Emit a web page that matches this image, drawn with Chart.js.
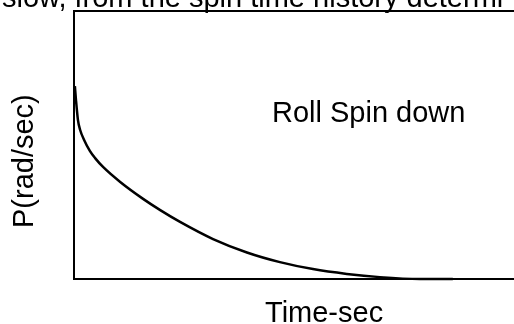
<!DOCTYPE html>
<html>
<head>
<meta charset="utf-8">
<script src="https://cdn.jsdelivr.net/npm/chart.js@4/dist/chart.umd.min.js"></script>
<style>
  html, body { margin: 0; padding: 0; background: #fff; overflow: hidden; }
  #wrap { position: relative; width: 514px; height: 324px; }
  canvas { display: block; }
</style>
</head>
<body>
<div id="wrap"><canvas id="c" width="514" height="324"></canvas></div>
<script>
// Roll spin-down history: roll rate decays from its initial value to rest.
const timeSec = [0.2, 0.45, 0.9, 1.4, 2.3, 3.6, 4.8, 6.6, 10.5, 15.7, 19.6, 24.1, 31.6, 39.3, 46.8, 54.3, 62.0, 69.5, 78.6, 86.1];
const rollRate = [72.0, 66.8, 59.3, 55.6, 51.9, 47.8, 45.1, 41.8, 36.2, 29.9, 25.7, 21.3, 14.9, 9.9, 6.3, 3.7, 1.9, 0.7, 0, 0];

// Text around the plot
const pageLine = 'slow, from the spin time history determi';
const curveLabel = 'Roll Spin down';
const xTitle = 'Time-sec';
const yTitle = 'P(rad/sec)';

const FONT = '29px "Liberation Sans", Arial, sans-serif';

const labelsPlugin = {
  id: 'labels',
  afterDraw(chart) {
    const ctx = chart.ctx;
    const a = chart.chartArea;
    ctx.save();
    ctx.fillStyle = '#000';
    ctx.font = FONT;
    ctx.textBaseline = 'alphabetic';
    ctx.textAlign = 'left';
    ctx.fillText(pageLine, 2, 7);
    ctx.fillText(curveLabel, a.left + 198, a.top + 111);
    ctx.fillText(xTitle, a.left + 191, a.bottom + 43);
    ctx.translate(33, a.bottom - 51);
    ctx.rotate(-Math.PI / 2);
    ctx.fillText(yTitle, 0, 0);
    ctx.restore();
  }
};

const zeroFit = (s) => { if (s.isHorizontal()) s.height = 0; else s.width = 0; };

new Chart(document.getElementById('c'), {
  type: 'line',
  data: {
    datasets: [{
      data: timeSec.map((t, i) => ({ x: t, y: rollRate[i] })),
      borderColor: '#000',
      borderWidth: 2.5,
      pointRadius: 0,
      fill: false,
      cubicInterpolationMode: 'monotone',
      clip: false
    }]
  },
  options: {
    responsive: false,
    animation: false,
    events: [],
    layout: { padding: { left: 74, top: 11, right: 0, bottom: 45 } },
    plugins: { legend: { display: false }, tooltip: { enabled: false } },
    scales: {
      x: {
        type: 'linear', min: 0, max: 100,
        grid: { display: false, drawTicks: false },
        ticks: { display: false },
        border: { display: true, color: '#000', width: 2 },
        afterFit: zeroFit
      },
      xTop: {
        type: 'linear', position: 'top', min: 0, max: 100,
        grid: { display: false, drawTicks: false },
        ticks: { display: false },
        border: { display: true, color: '#000', width: 2 },
        afterFit: zeroFit
      },
      y: {
        min: 0, max: 100,
        grid: { display: false, drawTicks: false },
        ticks: { display: false },
        border: { display: true, color: '#000', width: 2 },
        afterFit: zeroFit
      }
    }
  },
  plugins: [labelsPlugin]
});
</script>
</body>
</html>
